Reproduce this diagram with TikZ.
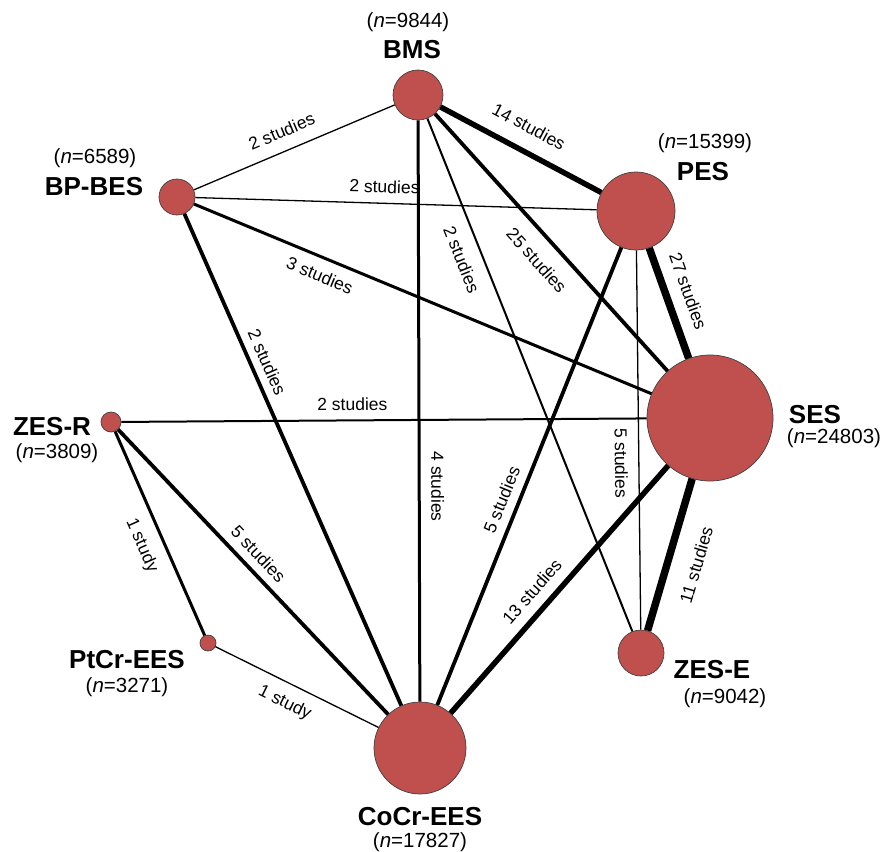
\documentclass[tikz,border=0pt]{standalone}
\usepackage{fontspec}
\setmainfont{Liberation Sans}
\usepackage{tikz}
\usepackage{xcolor}
\definecolor{trtred}{RGB}{192,80,77}
\tikzset{
    trt/.style={circle, fill=trtred, draw=black!75, line width=0.7pt, inner sep=0pt, minimum size=#1},
    trtname/.style={font=\fontsize{26}{28}\selectfont\bfseries, inner sep=0pt},
    ncount/.style={font=\fontsize{20.5}{22}\selectfont, inner sep=0pt},
    nstud/.style={font=\fontsize{17.5}{19}\selectfont, sloped, inner sep=2pt},
    thinlink/.style={line width=1.3pt},
    slimlink/.style={line width=2pt},
    midlink/.style={line width=3pt},
    widelink/.style={line width=3.8pt},
    heavylink/.style={line width=5.5pt},
    hugelink/.style={line width=7.5pt}
}

\begin{document}
\begin{tikzpicture}[x=1pt,y=1pt]
    \useasboundingbox (0,0) rectangle (883,-851);
    % treatments
    \node[trt=50] (bms) at (418,-95) {};
    \node[trt=78] (pes) at (636,-211) {};
    \node[trt=36] (bpbes) at (177,-197) {};
    \node[trt=126] (ses) at (710,-418) {};
    \node[trt=20] (zesr) at (111,-422) {};
    \node[trt=16] (ptcr) at (208,-643) {};
    \node[trt=46] (zese) at (641,-653) {};
    \node[trt=92] (cocr) at (420,-748) {};
    % names and patients
    \node[ncount] (bmsn) at (408,-22) {(\textit{n}=9844)};
    \node[trtname] (bmsname) at (412,-50) {BMS};
    \node[ncount] (pesn) at (705,-143) {(\textit{n}=15399)};
    \node[trtname] (pesname) at (703,-172) {PES};
    \node[ncount] (bpbesn) at (95,-158) {(\textit{n}=6589)};
    \node[trtname] (bpbesname) at (94,-187) {BP-BES};
    \node[trtname] (sesname) at (815,-415) {SES};
    \node[ncount] (sesn) at (834,-438) {(\textit{n}=24803)};
    \node[trtname] (zesrname) at (52,-427) {ZES-R};
    \node[ncount] (zesrn) at (57,-453) {(\textit{n}=3809)};
    \node[trtname] (ptcrname) at (127,-660) {PtCr-EES};
    \node[ncount] (ptcrn) at (127,-687) {(\textit{n}=3271)};
    \node[trtname] (zesename) at (712,-670) {ZES-E};
    \node[ncount] (zesen) at (725,-698) {(\textit{n}=9042)};
    \node[trtname] (cocrname) at (420,-817) {CoCr-EES};
    \node[ncount] (cocrn) at (420,-842) {(\textit{n}=17827)};
    % comparisons
    \draw[thinlink] (bpbes) -- (bms) node[nstud,above=10.5pt,pos=0.475] {2 studies};
    \draw[thinlink] (bpbes) -- (pes) node[nstud,above=7.5pt,pos=0.47] {2 studies};
    \draw[heavylink] (bms) -- (pes) node[nstud,above=13pt,pos=0.48] {14 studies};
    \draw[widelink] (bms) -- (ses) node[nstud,below=12.5pt,pos=0.51] {25 studies};
    \draw[slimlink] (bms) -- (zese) node[nstud,below=11pt,pos=0.26] {2 studies};
    \draw[midlink] (bms) -- (cocr) node[nstud,above=8.5pt,pos=0.63] {4 studies};
    \draw[midlink] (bpbes) -- (ses) node[nstud,below=8pt,pos=0.29] {3 studies};
    \draw[widelink] (bpbes) -- (cocr) node[nstud,above=5.5pt,pos=0.315] {2 studies};
    \draw[hugelink] (pes) -- (ses) node[nstud,above=10pt,pos=0.46] {27 studies};
    \draw[thinlink] (pes) -- (zese) node[nstud,below=8.5pt,pos=0.56] {5 studies};
    \draw[widelink] (cocr) -- (pes) node[nstud,above=6.5pt,pos=0.435] {5 studies};
    \draw[slimlink] (zesr) -- (ses) node[nstud,above=7pt,pos=0.44] {2 studies};
    \draw[widelink] (zesr) -- (cocr) node[nstud,above=6pt,pos=0.476] {5 studies};
    \draw[midlink] (zesr) -- (ptcr) node[nstud,below=10pt,pos=0.517] {1 study};
    \draw[thinlink] (ptcr) -- (cocr) node[nstud,below=9pt,pos=0.478] {1 study};
    \draw[heavylink] (cocr) -- (ses) node[nstud,above=8pt,pos=0.44] {13 studies};
    \draw[hugelink] (zese) -- (ses) node[nstud,below=16pt,pos=0.486] {11 studies};
\end{tikzpicture}
\end{document}
